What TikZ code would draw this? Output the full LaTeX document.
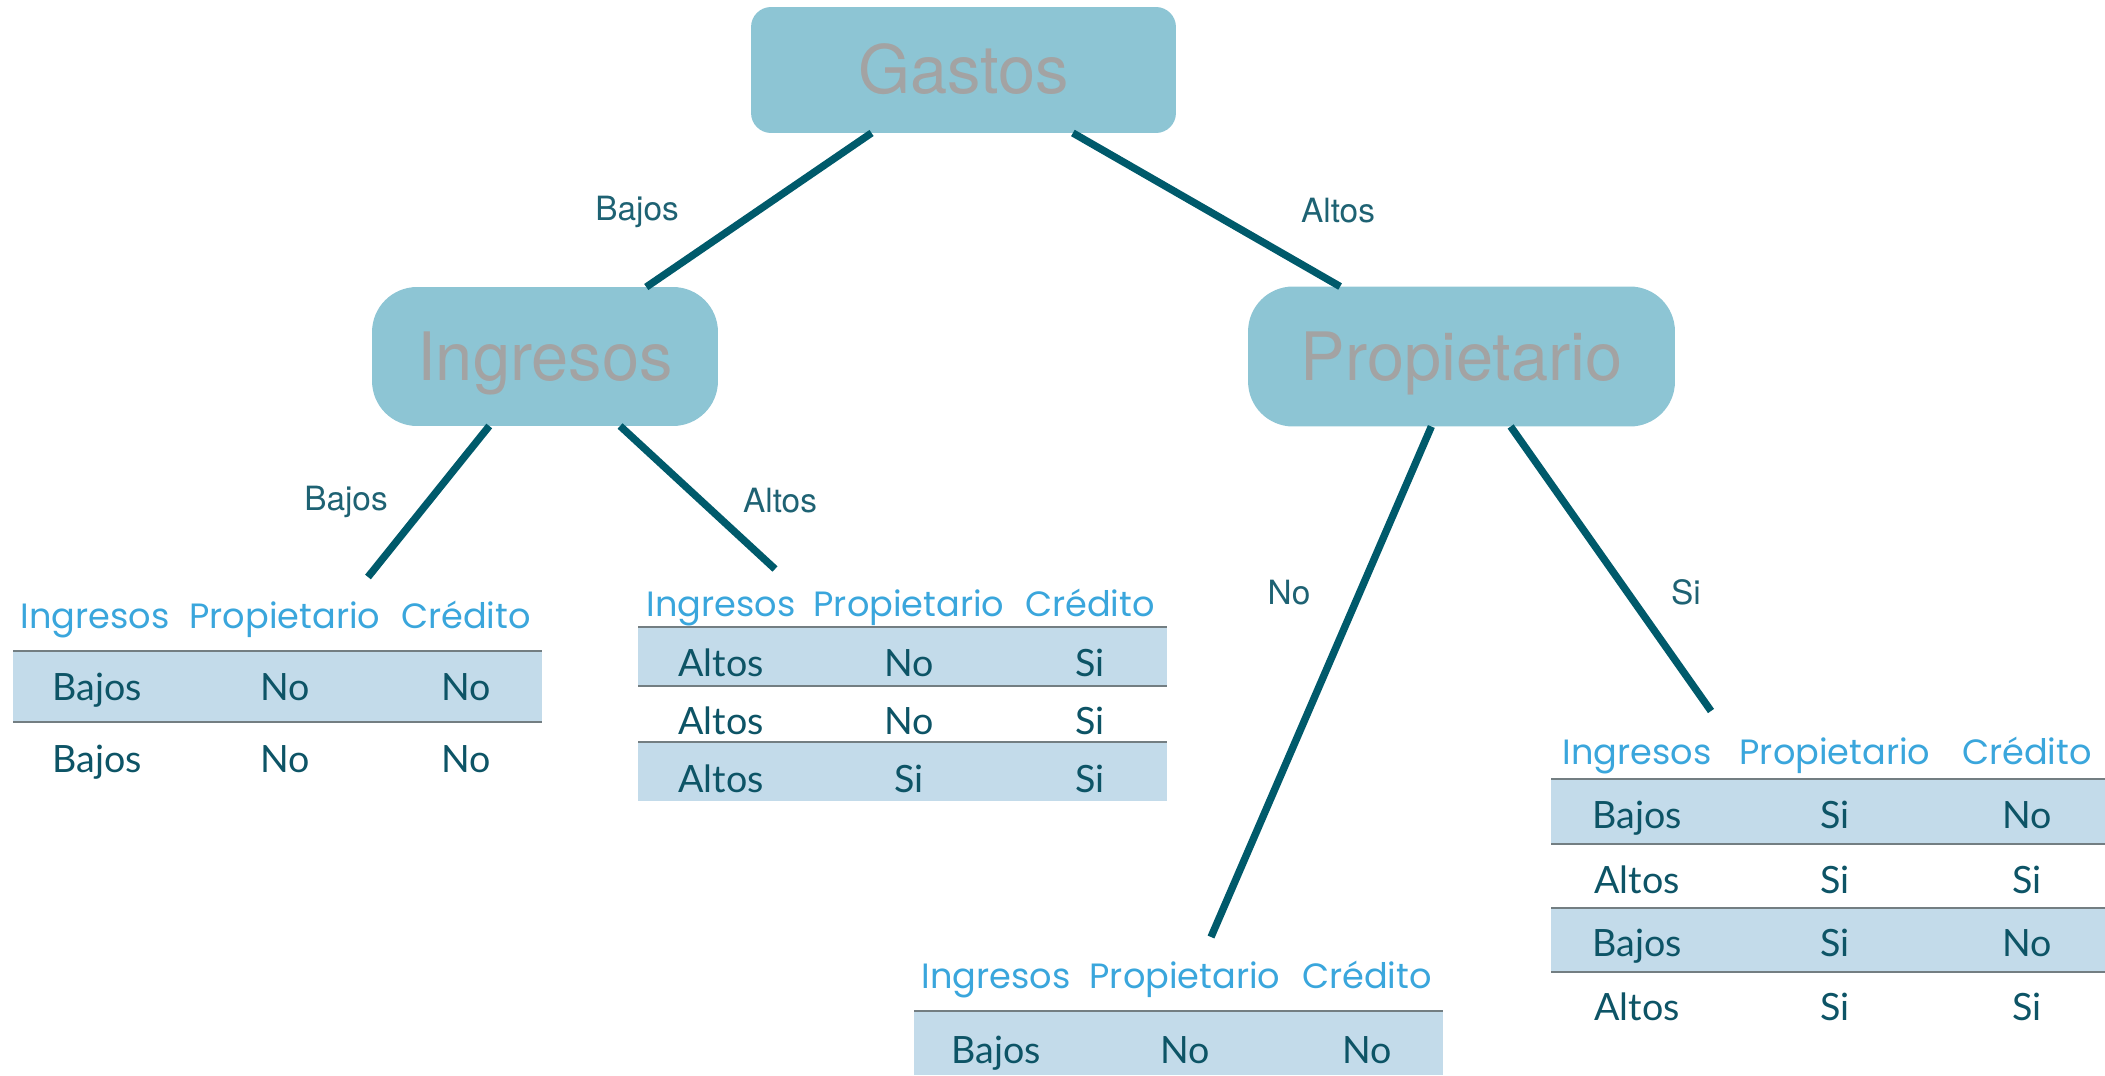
\documentclass[tikz,border=0pt]{standalone}
\usepackage{fontspec}
\setmainfont{TeX Gyre Heros}
\newfontfamily\hdrfont{Poppins}
\newfontfamily\datfont{Lato}
\definecolor{boxfill}{HTML}{8DC5D4}
\definecolor{boxtext}{HTML}{A3A3A3}
\definecolor{edgecol}{HTML}{005A6B}
\definecolor{labelcol}{HTML}{1E6273}
\definecolor{hdrcol}{HTML}{3AA6DC}
\definecolor{datcol}{HTML}{0D5466}
\definecolor{bandcol}{HTML}{C3DBEA}
\definecolor{rulecol}{HTML}{737E82}
\tikzset{
  treebox/.style={rectangle, fill=boxfill, draw=none, inner sep=0pt, outer sep=0pt,
    text=boxtext, font=\fontsize{38}{40}\selectfont, text height=27.3pt, text depth=0pt},
  edge/.style={draw=edgecol, line width=4.2pt},
  elabel/.style={text=labelcol, font=\fontsize{19}{21}\selectfont, inner sep=0pt,
    text height=13.6pt, text depth=0pt},
  hdr/.style={text=hdrcol, font=\hdrfont\fontsize{20}{22}\selectfont, inner sep=0pt,
    text height=13.9pt, text depth=0pt},
  dat/.style={text=datcol, font=\datfont\fontsize{21.4}{23}\selectfont, inner sep=0pt,
    text height=15.3pt, text depth=0pt},
  band/.style={fill=bandcol, draw=none},
  rule/.style={draw=rulecol, line width=1.6pt},
}
\begin{document}
\begin{tikzpicture}[x=0.02cm, y=-0.02cm]
\useasboundingbox (0,0) rectangle (2105,1075);

% ---- tree boxes ----
\node[treebox, minimum width=8.5cm, minimum height=2.52cm, rounded corners=0.4cm] (gastos) at (963.5,70) {Gastos};
\node[treebox, minimum width=6.92cm, minimum height=2.78cm, rounded corners=0.9cm] (ingresos) at (545,356.5) {Ingresos};
\node[treebox, minimum width=8.54cm, minimum height=2.8cm, rounded corners=0.9cm] (prop) at (1461.5,356.5) {Propietario};

% ---- free ends of connectors ----
\coordinate (e1) at (368,577);
\coordinate (e2) at (775,569);
\coordinate (e3) at (1211,937);
\coordinate (e4) at (1711,711);

\draw[edge] (gastos) -- (ingresos);
\draw[edge] (gastos) -- (prop);
\draw[edge] (ingresos) -- (e1);
\draw[edge] (ingresos) -- (e2);
\draw[edge] (prop) -- (e3);
\draw[edge] (prop) -- (e4);

% ---- edge labels ----
\node[elabel] (l1) at (637,209) {Bajos};
\node[elabel] (l2) at (1338,211) {Altos};
\node[elabel] (l3) at (346,499) {Bajos};
\node[elabel] (l4) at (780,501) {Altos};
\node[elabel] (l5) at (1289,593) {No};
\node[elabel] (l6) at (1686,593) {Si};

% ---- table 1 (Ingresos bajos) ----
\fill[band] (13,651) rectangle (542,722);
\draw[rule] (13,651) -- (542,651);
\draw[rule] (13,722) -- (542,722);
\node[hdr] (t1h1) at (95,616) {Ingresos};
\node[hdr] (t1h2) at (285,616) {Propietario};
\node[hdr] (t1h3) at (466,616) {Crédito};
\node[dat] (t1a1) at (97,687) {Bajos};
\node[dat] (t1a2) at (285,687) {No};
\node[dat] (t1a3) at (466,687) {No};
\node[dat] (t1b1) at (97,759) {Bajos};
\node[dat] (t1b2) at (285,759) {No};
\node[dat] (t1b3) at (466,759) {No};

% ---- table 2 (Ingresos altos) ----
\fill[band] (638,627) rectangle (1167,686);
\fill[band] (638,742) rectangle (1167,801);
\draw[rule] (638,627) -- (1167,627);
\draw[rule] (638,686) -- (1167,686);
\draw[rule] (638,742) -- (1167,742);
\node[hdr] (t2h1) at (721,604) {Ingresos};
\node[hdr] (t2h2) at (909,604) {Propietario};
\node[hdr] (t2h3) at (1090,604) {Crédito};
\node[dat] (t2a1) at (721,663) {Altos};
\node[dat] (t2a2) at (909,663) {No};
\node[dat] (t2a3) at (1090,663) {Si};
\node[dat] (t2b1) at (721,721) {Altos};
\node[dat] (t2b2) at (909,721) {No};
\node[dat] (t2b3) at (1090,721) {Si};
\node[dat] (t2c1) at (721,779) {Altos};
\node[dat] (t2c2) at (909,779) {Si};
\node[dat] (t2c3) at (1090,779) {Si};

% ---- table 3 (Propietario no) ----
\fill[band] (914,1011) rectangle (1443,1075);
\draw[rule] (914,1011) -- (1443,1011);
\node[hdr] (t3h1) at (996,976) {Ingresos};
\node[hdr] (t3h2) at (1185,976) {Propietario};
\node[hdr] (t3h3) at (1367,976) {Crédito};
\node[dat] (t3a1) at (996,1050) {Bajos};
\node[dat] (t3a2) at (1185,1050) {No};
\node[dat] (t3a3) at (1367,1050) {No};

% ---- table 4 (Propietario si) ----
\fill[band] (1551,779) rectangle (2105,844);
\fill[band] (1551,908) rectangle (2105,972);
\draw[rule] (1551,779) -- (2105,779);
\draw[rule] (1551,844) -- (2105,844);
\draw[rule] (1551,908) -- (2105,908);
\draw[rule] (1551,972) -- (2105,972);
\node[hdr] (t4h1) at (1637,752) {Ingresos};
\node[hdr] (t4h2) at (1835,752) {Propietario};
\node[hdr] (t4h3) at (2027,752) {Crédito};
\node[dat] (t4a1) at (1637,815) {Bajos};
\node[dat] (t4a2) at (1835,815) {Si};
\node[dat] (t4a3) at (2027,815) {No};
\node[dat] (t4b1) at (1637,880) {Altos};
\node[dat] (t4b2) at (1835,880) {Si};
\node[dat] (t4b3) at (2027,880) {Si};
\node[dat] (t4c1) at (1637,943) {Bajos};
\node[dat] (t4c2) at (1835,943) {Si};
\node[dat] (t4c3) at (2027,943) {No};
\node[dat] (t4d1) at (1637,1007) {Altos};
\node[dat] (t4d2) at (1835,1007) {Si};
\node[dat] (t4d3) at (2027,1007) {Si};
\end{tikzpicture}
\end{document}
